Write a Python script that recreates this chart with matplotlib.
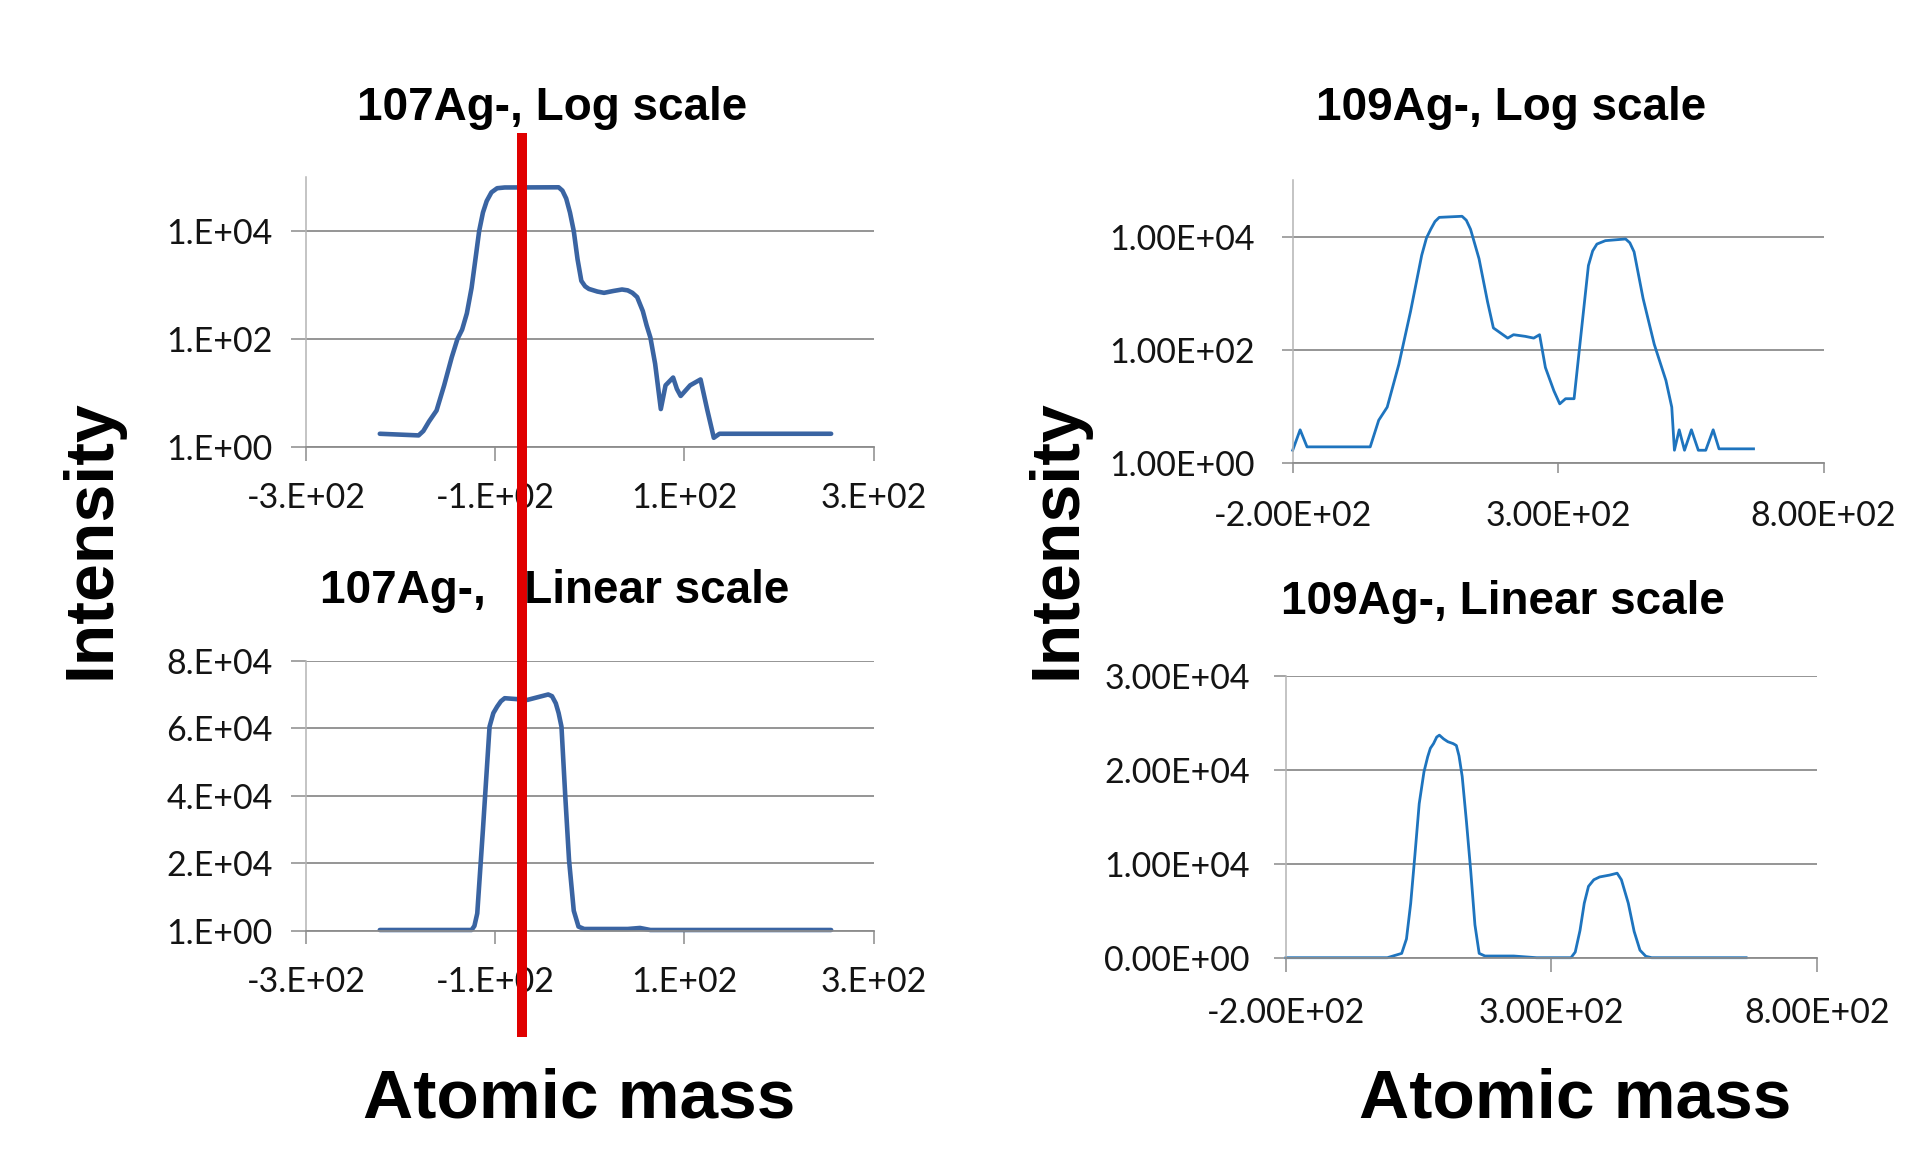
import matplotlib
matplotlib.use("Agg")
import matplotlib.pyplot as plt
import matplotlib.transforms as mtransforms
from matplotlib.lines import Line2D
from matplotlib.ticker import FixedLocator, FixedFormatter, NullLocator

# ---------------- data ----------------
# 107Ag-, log-scale panel
ag107_log_x = [-222, -181, -176, -170, -162, -154, -146, -140, -135, -130, -125, -120, -117,
               -113, -109, -104, -98, -90, -33, -29, -25, -21, -17, -13, -9, -5, -1, 8, 15,
               25, 34, 40, 45, 50, 56, 60, 64, 69, 75, 80, 88, 92, 96, 106, 117, 124, 131,
               137, 255]
ag107_log_y = [1.78, 1.66, 2.0, 3.0, 4.8, 14, 46, 100, 150, 300, 890, 4000, 10000,
               22000, 36000, 52000, 62000, 64000, 64500, 56000, 40000, 22000, 10000, 3000,
               1200, 950, 850, 760, 720, 780, 830, 800, 720, 600, 330, 180, 107, 35, 5.1,
               14, 19.5, 12, 8.9, 14, 18, 5, 1.5, 1.78, 1.78]

# 107Ag-, linear-scale panel
ag107_lin_x = [-222, -125, -122, -119, -113, -106, -102, -98, -94, -90, -66, -55, -44, -40,
               -36, -33, -30, -26, -22, -17, -12, -6, 40, 53, 64, 255]
ag107_lin_y = [300, 300, 1500, 5200, 30000, 60500, 64500, 66400, 68000, 68900, 68400,
               69200, 70000, 69500, 67400, 64500, 60500, 40000, 21000, 6000, 1300, 600,
               600, 900, 300, 300]

# 109Ag-, log-scale panel
ag109_log_x = [-200, -186, -173, -54, -38, -22, 0, 22, 43, 52, 60, 68, 76, 119, 127, 135,
               151, 167, 178, 205, 216, 238, 254, 265, 276, 292, 303, 314, 330, 341, 357,
               365, 373, 389, 427, 435, 443, 460, 481, 503, 514, 519, 528, 538, 551, 564,
               578, 592, 603, 668]
ag109_log_y = [1.7, 3.9, 1.95, 1.95, 5.75, 9.8, 56, 480, 4700, 9500, 13500, 18500, 21900,
               22900, 19500, 13500, 4070, 710, 245, 162, 186, 174, 162, 186, 49, 19, 11.2,
               13.8, 13.8, 126, 3090, 5600, 7400, 8500, 9100, 7800, 5400, 810, 126, 29, 9.8,
               1.7, 3.9, 1.7, 3.9, 1.7, 1.7, 3.9, 1.8, 1.8]

# 109Ag-, linear-scale panel
ag109_lin_x = [-200, -9, 18, 27, 35, 43, 51, 60, 67, 72, 78, 84, 89, 97, 105, 115, 121, 126,
               132, 140, 148, 156, 164, 175, 229, 272, 337, 345, 354, 362, 370, 380, 391,
               410, 424, 432, 445, 456, 467, 478, 489, 667]
ag109_lin_y = [0, 0, 460, 2000, 5800, 11000, 16400, 19800, 21400, 22300, 22800, 23500,
               23700, 23300, 23000, 22800, 22600, 21500, 19300, 14500, 9300, 3500, 460, 180,
               180, 0, 0, 600, 2900, 5800, 7600, 8300, 8600, 8800, 9000, 8300, 5800, 2800,
               800, 150, 0, 0]

# axis ticks / labels
left_xticks = [-300, -100, 100, 300]
left_xlabels = ["-3.E+02", "-1.E+02", "1.E+02", "3.E+02"]
right_xticks = [-200, 300, 800]
right_xlabels = ["-2.00E+02", "3.00E+02", "8.00E+02"]

left_log_yticks = [1, 1e2, 1e4]
left_log_ylabels = ["1.E+00", "1.E+02", "1.E+04"]
left_lin_yticks = [1, 2e4, 4e4, 6e4, 8e4]
left_lin_ylabels = ["1.E+00", "2.E+04", "4.E+04", "6.E+04", "8.E+04"]
right_log_yticks = [1, 1e2, 1e4]
right_log_ylabels = ["1.00E+00", "1.00E+02", "1.00E+04"]
right_lin_yticks = [0, 1e4, 2e4, 3e4]
right_lin_ylabels = ["0.00E+00", "1.00E+04", "2.00E+04", "3.00E+04"]

titles = ["107Ag-, Log scale", "107Ag-,   Linear scale",
          "109Ag-, Log scale", "109Ag-, Linear scale"]
marker_x = -72  # red vertical marker, in 107Ag x units

# ---------------- figure ----------------
W, H = 1923, 1158
DPI = 100
fig = plt.figure(figsize=(W / DPI, H / DPI), dpi=DPI, facecolor="white")

TICK_FONT = "Lato"
TITLE_FONT = "Liberation Sans"
GRID = "#8c8c8c"
AXIS_L = "#b4b4b4"
LBL = "#141414"
BLUE_L = "#3A64A2"
BLUE_R = "#1E74BE"
TICK_SIZE = 24.5


def add_ax(l, t, r, b):
    return fig.add_axes([l / W, 1 - b / H, (r - l) / W, (b - t) / H])


def style(ax, xticks, xlabels, yticks, ylabels, xlen, xpad, ylen, ypad):
    for s in ("top", "right"):
        ax.spines[s].set_visible(False)
    ax.spines["left"].set_color(AXIS_L)
    ax.spines["left"].set_linewidth(1.1)
    ax.spines["bottom"].set_color(GRID)
    ax.spines["bottom"].set_linewidth(1.3)
    ax.set_axisbelow(True)
    ax.grid(axis="y", color=GRID, linewidth=1.3)
    ax.grid(axis="x", visible=False)
    ax.xaxis.set_major_locator(FixedLocator(xticks))
    ax.xaxis.set_major_formatter(FixedFormatter(xlabels))
    ax.yaxis.set_major_locator(FixedLocator(yticks))
    ax.yaxis.set_major_formatter(FixedFormatter(ylabels))
    ax.yaxis.set_minor_locator(NullLocator())
    ax.xaxis.set_minor_locator(NullLocator())
    ax.tick_params(axis="x", direction="out", length=xlen, width=1.1, color=GRID,
                   pad=xpad, labelsize=TICK_SIZE, labelcolor=LBL)
    ax.tick_params(axis="y", direction="out", length=ylen, width=1.1, color=GRID,
                   pad=ypad, labelsize=TICK_SIZE, labelcolor=LBL)
    for lab in ax.get_xticklabels() + ax.get_yticklabels():
        lab.set_fontfamily(TICK_FONT)


# top-left: 107Ag log
ax_tl = add_ax(306, 177, 873.7, 447.3)
ax_tl.set_yscale("log")
ax_tl.plot(ag107_log_x, ag107_log_y, color=BLUE_L, lw=3.3, solid_joinstyle="round",
           solid_capstyle="round", clip_on=False)
ax_tl.set_xlim(-300, 300)
ax_tl.set_ylim(1, 1e5)
style(ax_tl, left_xticks, left_xlabels, left_log_yticks, left_log_ylabels, 10, 15, 11, 13)

# bottom-left: 107Ag linear
ax_bl = add_ax(306, 660.7, 873.7, 931)
ax_bl.plot(ag107_lin_x, ag107_lin_y, color=BLUE_L, lw=3.3, solid_joinstyle="round",
           solid_capstyle="round", clip_on=False)
ax_bl.set_xlim(-300, 300)
ax_bl.set_ylim(1, 8e4)
style(ax_bl, left_xticks, left_xlabels, left_lin_yticks, left_lin_ylabels, 9, 16, 11, 13)

# top-right: 109Ag log
ax_tr = add_ax(1292.7, 180, 1823.6, 463.3)
ax_tr.set_yscale("log")
ax_tr.plot(ag109_log_x, ag109_log_y, color=BLUE_R, lw=2.0, solid_joinstyle="round",
           clip_on=False)
ax_tr.set_xlim(-200, 800)
ax_tr.set_ylim(1, 1e5)
style(ax_tr, right_xticks, right_xlabels, right_log_yticks, right_log_ylabels, 7.5, 19, 8, 19)

# bottom-right: 109Ag linear
ax_br = add_ax(1286, 676, 1816.7, 957.7)
ax_br.plot(ag109_lin_x, ag109_lin_y, color=BLUE_R, lw=2.0, solid_joinstyle="round",
           clip_on=False)
ax_br.set_xlim(-200, 800)
ax_br.set_ylim(0, 3e4)
style(ax_br, right_xticks, right_xlabels, right_lin_yticks, right_lin_ylabels, 10, 18, 9, 17)

# titles
title_pos = [(552, 120), (555, 603), (1511, 120), (1503, 614)]
for txt, (x, y) in zip(titles, title_pos):
    fig.text(x / W, 1 - y / H, txt, ha="center", va="baseline", fontsize=33,
             fontweight="bold", family=TITLE_FONT, color="black")

# axis labels
for x in (110, 1075):
    fig.text(x / W, 1 - 539 / H, "Intensity", rotation=90, rotation_mode="anchor",
             ha="center", va="baseline", fontsize=49, fontweight="bold",
             family=TITLE_FONT, color="black")
for x in (579, 1575):
    fig.text(x / W, 1 - 1118 / H, "Atomic mass", ha="center", va="baseline",
             fontsize=50, fontweight="bold", family=TITLE_FONT, color="black")

# red vertical marker line crossing both left panels
trans = mtransforms.blended_transform_factory(ax_tl.transData, fig.transFigure)
fig.add_artist(Line2D([marker_x, marker_x], [1 - 133 / H, 1 - 1037 / H], transform=trans,
                      color="#E00000", lw=7.2, solid_capstyle="butt", zorder=20))

fig.savefig("out.png", dpi=DPI, facecolor="white")
